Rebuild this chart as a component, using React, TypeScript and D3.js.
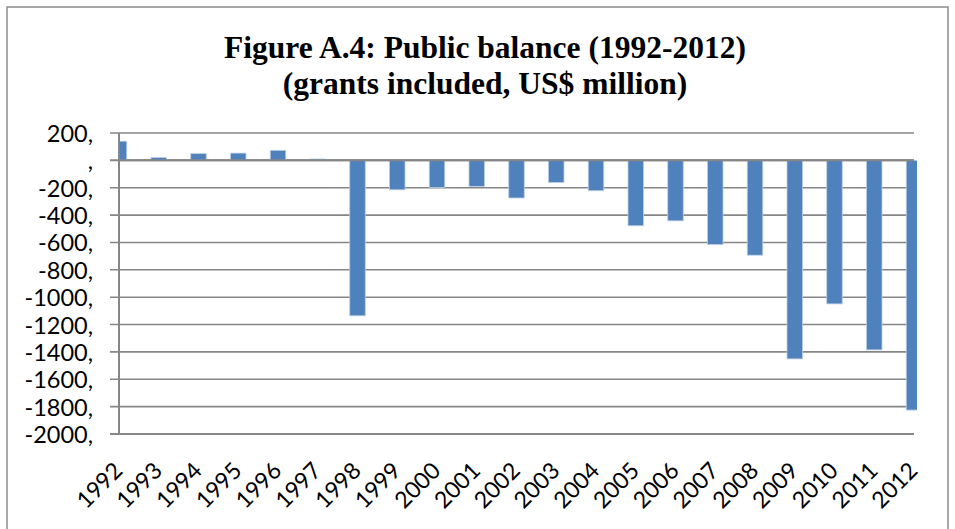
import React from "react";
import * as d3 from "d3";

const years: string[] = [
  "1992", "1993", "1994", "1995", "1996", "1997", "1998", "1999", "2000", "2001", "2002",
  "2003", "2004", "2005", "2006", "2007", "2008", "2009", "2010", "2011", "2012",
];
const balance: number[] = [
  140, 20, 49, 53, 73, 10, -1136, -215, -198, -190, -275,
  -161, -222, -478, -442, -615, -693, -1451, -1049, -1385, -1825,
];
const yTicks: number[] = [200, 0, -200, -400, -600, -800, -1000, -1200, -1400, -1600, -1800, -2000];
const titleLines: string[] = ["Figure A.4: Public balance (1992-2012)", "(grants included, US$ million)"];

const W = 955;
const H = 529;
const plotL = 119;
const plotR = 914;
const plotT = 133;
const plotB = 434;
const barW = 15.5;
const grid = "#868686";
const labelFont = "Lato, 'Open Sans', sans-serif";

export default function App() {
  const x = d3.scalePoint<string>().domain(years).range([plotL, plotR]);
  const y = d3.scaleLinear().domain([-2000, 200]).range([plotB, plotT]);
  const y0 = y(0);

  return (
    <svg width={W} height={H} style={{ position: "absolute", left: 0, top: 0, background: "#fff" }}>
      <defs>
        <clipPath id="plotclip">
          <rect x={plotL} y={0} width={plotR + 3 - plotL} height={H} />
        </clipPath>
      </defs>
      <rect x={7} y={7} width={941} height={540} fill="#fff" stroke="#8c8c8c" strokeWidth={1.5} />
      {titleLines.map((t, i) => (
        <text
          key={t}
          x={485}
          y={58 + i * 36}
          textAnchor="middle"
          fontFamily="'Liberation Serif', 'Times New Roman', serif"
          fontWeight="bold"
          fontSize={31.5}
          fill="#000"
        >
          {t}
        </text>
      ))}
      {/* gridlines */}
      {yTicks.map((t) => (
        <line
          key={t}
          x1={plotL - 9}
          x2={plotR}
          y1={y(t)}
          y2={y(t)}
          stroke={grid}
          strokeWidth={t === -2000 || t === 0 ? 2 : 1.6}
        />
      ))}
      {/* bars */}
      <g clipPath="url(#plotclip)">
        {years.map((yr, i) => {
          const v = balance[i];
          const top = Math.min(y(v), y0);
          const h = Math.abs(y(v) - y0);
          return (
            <rect
              key={yr}
              x={(x(yr) as number) - barW / 2}
              y={top}
              width={barW}
              height={h}
              fill="#4F81BD"
              stroke="#B9CDE5"
              strokeWidth={0.8}
            />
          );
        })}
      </g>
      {/* zero axis line */}
      <line x1={plotL} x2={plotR} y1={y0} y2={y0} stroke={grid} strokeWidth={2} />
      {/* y axis */}
      <line x1={plotL} x2={plotL} y1={plotT} y2={plotB} stroke={grid} strokeWidth={2} />
      {/* y labels */}
      {yTicks.map((t) => (
        <text
          key={"l" + t}
          x={93}
          y={y(t) + 9}
          textAnchor="end"
          fontFamily={labelFont}
          fontSize={23.5}
          fill="#000"
        >
          {t === 0 ? "," : `${t},`}
        </text>
      ))}
      {/* x labels */}
      {years.map((yr) => (
        <text
          key={"x" + yr}
          transform={`translate(${(x(yr) as number) + 5},472) rotate(-45)`}
          textAnchor="end"
          fontFamily={labelFont}
          fontSize={23}
          fill="#000"
        >
          {yr}
        </text>
      ))}
    </svg>
  );
}
